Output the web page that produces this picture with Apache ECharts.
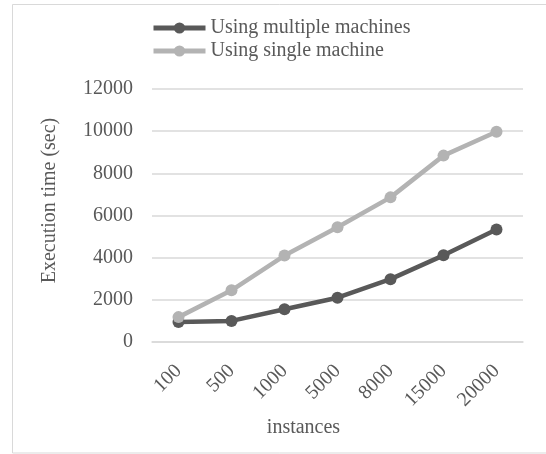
<!DOCTYPE html>
<html>
<head>
<meta charset="utf-8">
<script src="https://cdn.jsdelivr.net/npm/echarts@6/dist/echarts.min.js"></script>
<style>
  html, body { margin: 0; padding: 0; background: #fff; }
  #chart { width: 546px; height: 454px; }
</style>
</head>
<body>
<div id="chart"></div>
<script>
// Execution time by number of instances
const instances = ['100', '500', '1000', '5000', '8000', '15000', '20000'];
const multipleMachines = [950, 1000, 1550, 2100, 2980, 4110, 5340];
const singleMachine = [1180, 2450, 4100, 5440, 6860, 8840, 9970];
const yTicks = { min: 0, max: 12000, interval: 2000 };

const FONT = '"Liberation Serif", "Times New Roman", serif';
const TEXT = '#595959';
const DARK = '#595959';
const LIGHT = '#b3b3b3';

const chart = echarts.init(document.getElementById('chart'), null, { renderer: 'canvas' });
chart.setOption({
  backgroundColor: '#ffffff',
  animation: false,
  textStyle: { fontFamily: FONT, color: TEXT },
  graphic: [{
    type: 'rect',
    shape: { x: 12.5, y: 4.5, width: 560, height: 448.5 },
    style: { fill: 'none', stroke: '#d9d9d9', lineWidth: 1 },
    silent: true,
    z: -1
  }],
  legend: {
    orient: 'vertical',
    left: 151,
    top: 18,
    padding: 0,
    itemWidth: 52,
    itemHeight: 14,
    itemGap: 3,
    lineStyle: { width: 5 },
    textStyle: { fontFamily: FONT, fontSize: 20, color: TEXT },
    data: ['Using multiple machines', 'Using single machine']
  },
  grid: { left: 152, right: 23, top: 89, bottom: 112 },
  xAxis: {
    type: 'category',
    data: instances,
    boundaryGap: true,
    name: 'instances',
    nameLocation: 'middle',
    nameGap: 76,
    nameTextStyle: { fontFamily: FONT, fontSize: 20, color: TEXT, padding: [0, 68, 0, 0] },
    axisLine: { show: true, lineStyle: { color: '#d9d9d9', width: 1.5 } },
    axisTick: { show: false },
    axisLabel: { rotate: 45, margin: 26, fontFamily: FONT, fontSize: 20, color: TEXT }
  },
  yAxis: {
    type: 'value',
    min: yTicks.min,
    max: yTicks.max,
    interval: yTicks.interval,
    name: 'Execution time (sec)',
    nameLocation: 'middle',
    nameGap: 92,
    nameTextStyle: { fontFamily: FONT, fontSize: 20, color: TEXT, padding: [0, 0, 0, 30] },
    axisLine: { show: false },
    axisTick: { show: false },
    axisLabel: {
      margin: 19,
      fontFamily: FONT,
      fontSize: 20,
      color: TEXT,
      formatter: (v) => String(v)
    },
    splitLine: { lineStyle: { color: '#d9d9d9', width: 1.5 } }
  },
  series: [
    {
      name: 'Using multiple machines',
      type: 'line',
      data: multipleMachines,
      symbol: 'circle',
      symbolSize: 12,
      itemStyle: { color: DARK },
      lineStyle: { color: DARK, width: 4.5 },
      z: 2
    },
    {
      name: 'Using single machine',
      type: 'line',
      data: singleMachine,
      symbol: 'circle',
      symbolSize: 12,
      itemStyle: { color: LIGHT },
      lineStyle: { color: LIGHT, width: 4.5 },
      z: 3
    }
  ]
});
</script>
</body>
</html>
